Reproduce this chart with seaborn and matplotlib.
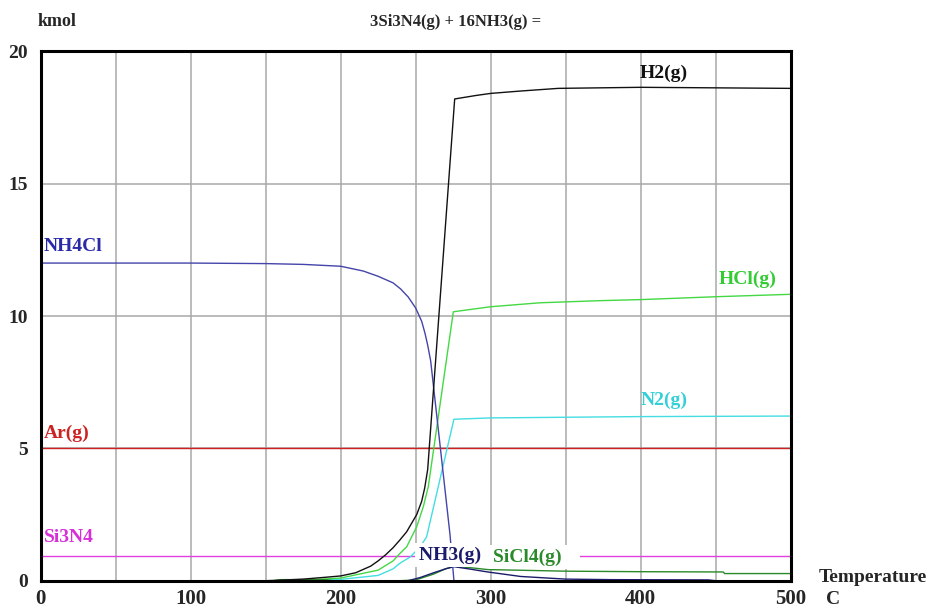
import matplotlib
matplotlib.use("Agg")
import matplotlib.pyplot as plt
import seaborn as sns
import numpy as np

# Equilibrium amounts (kmol) versus temperature (C)
t_nh4cl = [0, 100, 150, 175, 200, 215, 225, 235, 240, 245, 250, 254, 256.2, 258, 260, 272.9, 275.5, 500]
nh4cl = [12.0, 12.0, 11.98, 11.95, 11.88, 11.7, 11.5, 11.25, 11.02, 10.72, 10.3, 9.8, 9.35, 8.9, 8.3, 1.73, 0.0, 0.0]

t_h2 = [0, 150, 160, 175, 190, 200, 210, 220, 225, 230, 235, 239.5, 244, 250.7, 254, 256, 258, 276, 290, 300, 320, 345, 400, 450, 500]
h2 = [0, 0, 0.02, 0.06, 0.13, 0.18, 0.3, 0.55, 0.75, 0.98, 1.25, 1.54, 1.85, 2.5, 3.0, 3.5, 4.2, 18.2, 18.33, 18.41, 18.5, 18.6, 18.64, 18.62, 18.6]

t_hcl = [0, 170, 200, 225, 235, 239.5, 244, 250.7, 255.1, 258.4, 275.1, 300, 333, 373, 400, 451, 500]
hcl = [0, 0, 0.1, 0.4, 0.75, 1.03, 1.28, 2.04, 2.8, 3.55, 10.16, 10.35, 10.5, 10.58, 10.62, 10.73, 10.82]

t_n2 = [0, 180, 200, 225, 235, 239.5, 246.4, 253, 257.3, 275.5, 300, 400, 500]
n2 = [0, 0, 0.05, 0.2, 0.45, 0.66, 0.9, 1.28, 1.66, 6.1, 6.15, 6.2, 6.22]

t_ar = [0, 500]
ar = [5.0, 5.0]

t_si3n4 = [0, 500]
si3n4 = [0.95, 0.95]

t_nh3 = [0, 245, 253, 262, 270, 275.5, 285, 298, 320, 350, 380, 445, 450, 500]
nh3 = [0, 0, 0.12, 0.3, 0.45, 0.53, 0.45, 0.33, 0.16, 0.06, 0.04, 0.03, 0, 0]

t_sicl4 = [0, 155, 160, 190, 195, 240, 250, 262, 270, 276, 290, 298, 350, 400, 455, 456, 500]
sicl4 = [0, 0, 0.04, 0.04, 0, 0, 0.03, 0.25, 0.45, 0.55, 0.47, 0.42, 0.36, 0.34, 0.33, 0.27, 0.27]

x_ticks = [0, 100, 200, 300, 400, 500]
y_ticks = [0, 5, 10, 15, 20]

sns.set_theme(style="white")
plt.rcParams["font.family"] = ["Liberation Serif", "DejaVu Serif"]
plt.rcParams["font.weight"] = "bold"

fig = plt.figure(figsize=(9.29, 6.08), dpi=100)
ax = fig.add_axes([0.0438, 0.0449, 0.8073, 0.8707])

series = [
    (t_ar, ar, "#cc2222"),
    (t_si3n4, si3n4, "#e040e0"),
    (t_n2, n2, "#44dde2"),
    (t_hcl, hcl, "#44d844"),
    (t_sicl4, sicl4, "#2a8a2a"),
    (t_nh3, nh3, "#1b1b6b"),
    (t_nh4cl, nh4cl, "#4444aa"),
    (t_h2, h2, "#111111"),
]
for tx, vy, col in series:
    sns.lineplot(x=tx, y=vy, color=col, lw=1.0, ax=ax, estimator=None, sort=False)

ax.set_xlim(0, 500)
ax.set_ylim(0, 20)
ax.set_xticks(x_ticks)
ax.set_xticks(np.arange(0, 501, 50), minor=True)
ax.set_yticks(y_ticks)
ax.set_xticklabels([str(v) for v in x_ticks], fontsize=15, fontweight="bold")
ax.set_yticklabels([str(v) for v in y_ticks], fontsize=14, fontweight="bold")
ax.tick_params(axis="both", which="both", length=0)
ax.tick_params(axis="x", pad=6)
ax.tick_params(axis="y", pad=9)
ax.grid(True, which="both", color="#a8a8a8", lw=1.1)
ax.set_axisbelow(True)
ax.set_xlabel("")
ax.set_ylabel("")
for name, sp in ax.spines.items():
    sp.set_visible(True)
    sp.set_color("black")
    sp.set_linewidth(2.2)

# Species labels
lab = dict(fontsize=14, fontweight="bold")
ax.text(415.5, 19.18, "H2(g)", color="#111111", ha="center", va="center", **lab)
ax.text(2.2, 12.64, "NH4Cl", color="#2a2aa8", ha="left", va="center", **lab)
ax.text(471.5, 11.4, "HCl(g)", color="#33cc33", ha="center", va="center", **lab)
ax.text(415.5, 6.83, "N2(g)", color="#33d0d8", ha="center", va="center", **lab)
ax.text(2.2, 5.58, "Ar(g)", color="#cc2222", ha="left", va="center", **lab)
ax.text(2.2, 1.65, "Si3N4", color="#d830d8", ha="left", va="center", **lab)
box = dict(facecolor="white", edgecolor="none", pad=2.5)
ax.text(252.2, 0.97, "NH3(g) ", color="#1b1b6b", ha="left", va="center", bbox=box, zorder=5, **lab)
ax.text(301.5, 0.9, "SiCl4(g)   ", color="#2a8a2a", ha="left", va="center", bbox=box, zorder=5, **lab)

# Figure annotations
fig.text(57 / 929, 1 - 22 / 608, "kmol", ha="center", va="center", fontsize=13, fontweight="bold")
fig.text(456 / 929, 1 - 22 / 608, "3Si3N4(g) + 16NH3(g) =", ha="center", va="center", fontsize=12, fontweight="bold")
fig.text(873 / 929, 1 - 577 / 608, "Temperature", ha="center", va="center", fontsize=14, fontweight="bold")
fig.text(833 / 929, 1 - 600 / 608, "C", ha="center", va="center", fontsize=14, fontweight="bold")

fig.savefig("out.png", dpi=100)
